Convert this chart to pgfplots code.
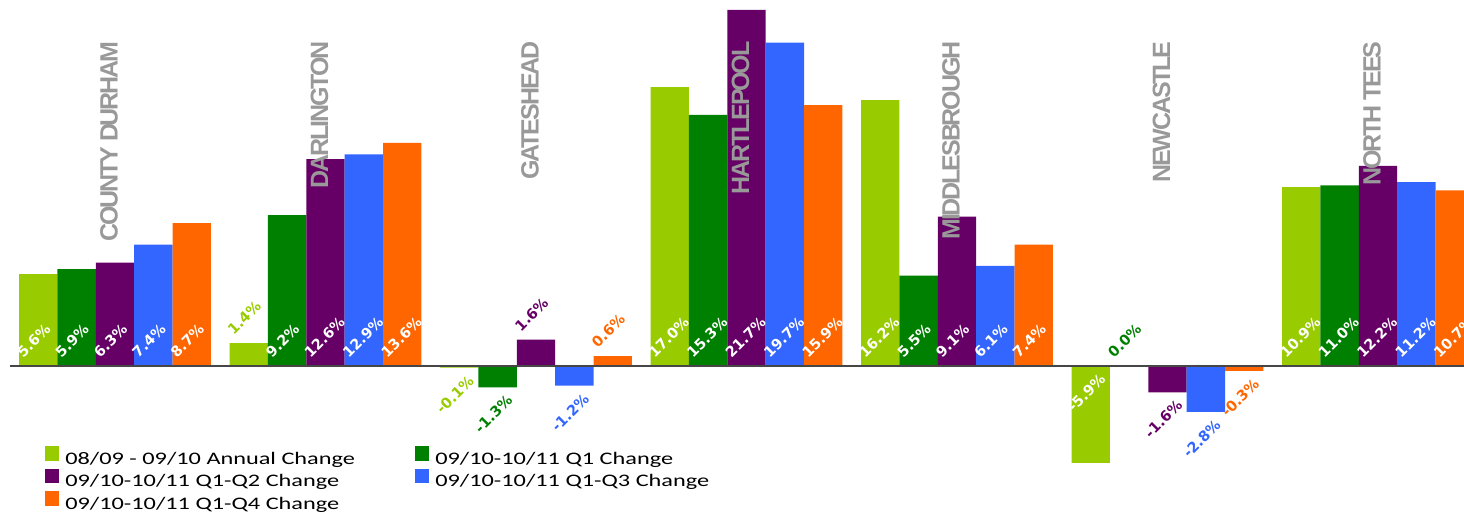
\documentclass[border=0pt]{standalone}
\usepackage{pgfplots}
\pgfplotsset{compat=1.18}
\usepackage{fontspec}
\setmainfont{DejaVu Sans}
\newfontfamily\lblfont{DejaVu Sans}
\newfontfamily\catfont{Liberation Sans Bold}[LetterSpace=-8.5]
\newfontfamily\legfont{Carlito}[FakeStretch=1.38]
\definecolor{cA}{RGB}{153,204,0}
\definecolor{cB}{RGB}{0,128,0}
\definecolor{cC}{RGB}{102,0,102}
\definecolor{cD}{RGB}{51,102,255}
\definecolor{cE}{RGB}{255,102,0}
\definecolor{catgray}{RGB}{153,153,153}
\definecolor{zerogray}{RGB}{70,70,70}
\pgfplotsset{
  lbl/.style={draw=none, mark=none, forget plot, nodes near coords, point meta=explicit symbolic,
     nodes near coords style={font=\lblfont\bfseries\fontsize{7.2}{8}\selectfont, inner sep=0pt}},
  lblpos/.style={lbl, nodes near coords style={text=#1, xshift=-7.6pt, yshift=3.7pt, rotate=45, anchor=base west}},
  lblneg/.style={lbl, nodes near coords style={text=#1, xshift=8pt, yshift=-7pt, rotate=45, anchor=base east}},
  mybar/.style={ybar, bar width=0.1824, bar shift=#1, draw=none},
}
\begin{document}
\begin{tikzpicture}
\begin{axis}[
  scale only axis, width=727.1pt, height=256pt,
  xmin=-0.5, xmax=6.4086, ymin=-8.897, ymax=22.303,
  axis lines=none, clip=false,
  legend columns=2, legend cell align=left,
  legend image code/.code={\path[#1,draw=none] (0pt,-0.8pt) rectangle (7.2pt,6.4pt);},
  legend style={at={(0.0242,0.128)}, anchor=north west, draw=none, fill=none,
    font=\legfont\fontsize{8.8}{10}\selectfont, inner sep=0pt, outer sep=0pt,
    row sep=0.3pt,
    nodes={inner sep=0pt, text height=7pt, text depth=2pt},
    /tikz/every odd column/.append style={column sep=3pt},
    /tikz/every even column/.append style={column sep=30pt}},
]
% bars
\addplot[mybar=-0.3648, fill=cA] coordinates {(0,5.6) (1,1.4) (2,-0.1) (3,17.0) (4,16.2) (5,-5.9) (6,10.9)};
\addlegendentry{08/09 - 09/10 Annual Change}
\addplot[mybar=-0.1824, fill=cB] coordinates {(0,5.9) (1,9.2) (2,-1.3) (3,15.3) (4,5.5) (5,0.0) (6,11.0)};
\addlegendentry{09/10-10/11 Q1 Change}
\addplot[mybar=0, fill=cC] coordinates {(0,6.3) (1,12.6) (2,1.6) (3,21.7) (4,9.1) (5,-1.6) (6,12.2)};
\addlegendentry{09/10-10/11 Q1-Q2 Change}
\addplot[mybar=0.1824, fill=cD] coordinates {(0,7.4) (1,12.9) (2,-1.2) (3,19.7) (4,6.1) (5,-2.8) (6,11.2)};
\addlegendentry{09/10-10/11 Q1-Q3 Change}
\addplot[mybar=0.3648, fill=cE] coordinates {(0,8.7) (1,13.6) (2,0.6) (3,15.9) (4,7.4) (5,-0.3) (6,10.7)};
\addlegendentry{09/10-10/11 Q1-Q4 Change}
% zero line
\addplot[zerogray, line width=0.75pt, forget plot] coordinates {(-0.5,0) (6.4086,0)};
% category names
\addplot[lbl, nodes near coords style={font=\catfont\fontsize{12.5}{14}\selectfont, text=catgray, xshift=-3pt, rotate=90, anchor=east}]
  coordinates {(0,19.8)[COUNTY DURHAM] (1,19.8)[DARLINGTON] (2,19.8)[GATESHEAD] (3,19.8)[HARTLEPOOL] (4,19.8)[MIDDLESBROUGH] (5,19.8)[NEWCASTLE] (6,19.8)[NORTH TEES]};
% labels series A
\addplot[lblpos=white] coordinates {(-0.3648,0)[5.6\%] (2.6352,0)[17.0\%] (3.6352,0)[16.2\%] (5.6352,0)[10.9\%]};
\addplot[lblpos=cA] coordinates {(0.6352,1.4)[1.4\%]};
\addplot[lblneg=cA] coordinates {(1.6352,-0.1)[-0.1\%]};
\addplot[lblneg=white] coordinates {(4.6352,0)[-5.9\%]};
% labels series B
\addplot[lblpos=white] coordinates {(-0.1824,0)[5.9\%] (0.8176,0)[9.2\%] (2.8176,0)[15.3\%] (3.8176,0)[5.5\%] (5.8176,0)[11.0\%]};
\addplot[lblpos=cB] coordinates {(4.8176,0.0)[0.0\%]};
\addplot[lblneg=cB] coordinates {(1.8176,-1.3)[-1.3\%]};
% labels series C
\addplot[lblpos=white] coordinates {(0,0)[6.3\%] (1,0)[12.6\%] (3,0)[21.7\%] (4,0)[9.1\%] (6,0)[12.2\%]};
\addplot[lblpos=cC] coordinates {(2,1.6)[1.6\%]};
\addplot[lblneg=cC] coordinates {(5,-1.6)[-1.6\%]};
% labels series D
\addplot[lblpos=white] coordinates {(0.1824,0)[7.4\%] (1.1824,0)[12.9\%] (3.1824,0)[19.7\%] (4.1824,0)[6.1\%] (6.1824,0)[11.2\%]};
\addplot[lblneg=cD] coordinates {(2.1824,-1.2)[-1.2\%] (5.1824,-2.8)[-2.8\%]};
% labels series E
\addplot[lblpos=white] coordinates {(0.3648,0)[8.7\%] (1.3648,0)[13.6\%] (3.3648,0)[15.9\%] (4.3648,0)[7.4\%] (6.3648,0)[10.7\%]};
\addplot[lblpos=cE] coordinates {(2.3648,0.6)[0.6\%]};
\addplot[lblneg=cE] coordinates {(5.3648,-0.3)[-0.3\%]};
\end{axis}
\pgfresetboundingbox
\path[use as bounding box] ([xshift=-4.875pt]current axis.south west) rectangle (current axis.north east);
\end{tikzpicture}
\end{document}
